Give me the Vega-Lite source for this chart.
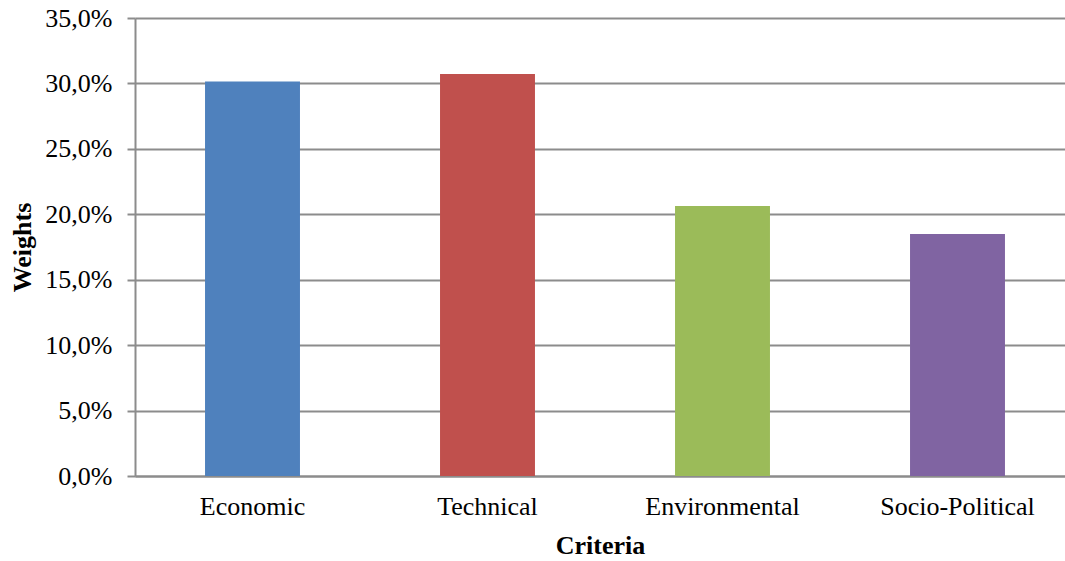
{
  "$schema": "https://vega.github.io/schema/vega-lite/v6.json",
  "width": 940,
  "height": 458,
  "autosize": {"type": "none"},
  "padding": {"left": 135, "top": 18, "right": 0, "bottom": 85},
  "background": "white",
  "config": {
    "view": {"stroke": null},
    "font": "Liberation Serif"
  },
  "data": {
    "values": [
      {"criterion": "Economic", "weight": 0.3014},
      {"criterion": "Technical", "weight": 0.3073},
      {"criterion": "Environmental", "weight": 0.2064},
      {"criterion": "Socio-Political", "weight": 0.1850}
    ]
  },
  "mark": {"type": "bar"},
  "encoding": {
    "x": {
      "field": "criterion",
      "type": "nominal",
      "sort": null,
      "scale": {"paddingInner": 0.596, "paddingOuter": 0.298},
      "axis": {
        "title": "Criteria",
        "titleFont": "Liberation Serif",
        "titleFontSize": 26,
        "titleFontWeight": "bold",
        "titleColor": "black",
        "titleBaseline": "middle",
        "titleX": 465,
        "titleY": 69,
        "labelFont": "Liberation Serif",
        "labelFontSize": 26,
        "labelColor": "black",
        "labelAngle": 0,
        "labelPadding": 17,
        "ticks": false,
        "domain": true,
        "domainColor": "#8c8c8c",
        "domainWidth": 2,
        "grid": false
      }
    },
    "y": {
      "field": "weight",
      "type": "quantitative",
      "scale": {"domain": [0, 0.35], "nice": false},
      "axis": {
        "title": "Weights",
        "titleFont": "Liberation Serif",
        "titleFontSize": 26,
        "titleFontWeight": "bold",
        "titleColor": "black",
        "titleAngle": -90,
        "titleBaseline": "middle",
        "titleX": -113,
        "titleY": 229,
        "values": [0, 0.05, 0.1, 0.15, 0.2, 0.25, 0.3, 0.35],
        "labelExpr": "replace(format(datum.value, '.1%'), '.', ',')",
        "labelFont": "Liberation Serif",
        "labelFontSize": 26,
        "labelColor": "black",
        "labelPadding": 15,
        "tickSize": 8,
        "tickColor": "#8c8c8c",
        "tickWidth": 2,
        "domainColor": "#8c8c8c",
        "domainWidth": 2,
        "grid": true,
        "gridColor": "#8c8c8c",
        "gridWidth": 2
      }
    },
    "color": {
      "field": "criterion",
      "type": "nominal",
      "sort": null,
      "scale": {
        "domain": ["Economic", "Technical", "Environmental", "Socio-Political"],
        "range": ["#4F81BD", "#C0504D", "#9BBB59", "#8064A2"]
      },
      "legend": null
    }
  }
}
